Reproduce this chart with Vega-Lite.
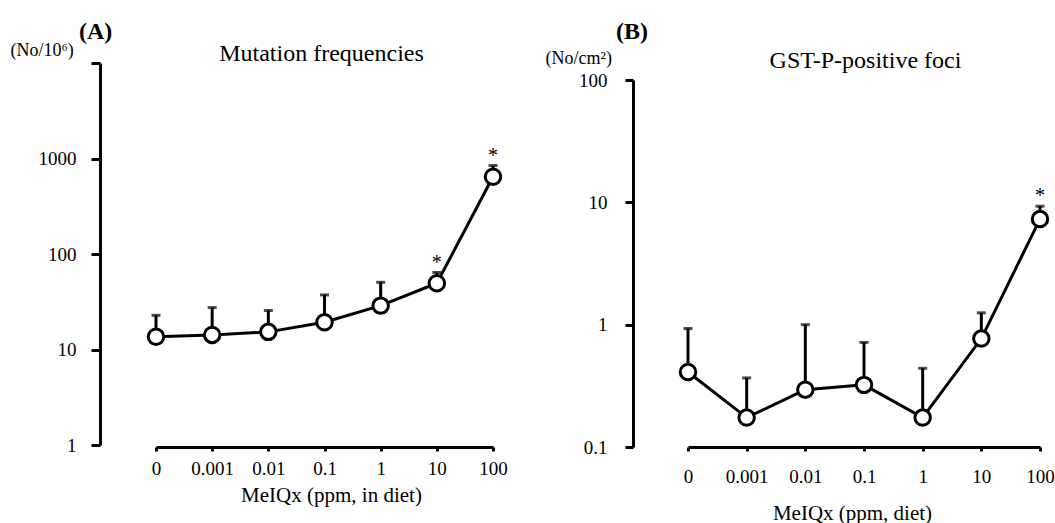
{
  "$schema": "https://vega.github.io/schema/vega-lite/v6.json",
  "background": "white",
  "padding": {"left": 10, "top": 20, "right": 0, "bottom": 0},
  "bounds": "flush",
  "spacing": 118,
  "config": {
    "font": "Liberation Serif",
    "view": {"stroke": null},
    "axis": {"domainColor": "black", "domainWidth": 3, "tickColor": "black", "tickWidth": 3, "labelColor": "black", "labelFont": "Liberation Serif", "labelFontSize": 19, "titleFont": "Liberation Serif", "titleColor": "black", "titleFontWeight": "normal", "grid": false},
    "title": {"font": "Liberation Serif", "fontSize": 24, "fontWeight": "bold", "color": "black", "anchor": "start", "frame": "group"}
  },
  "datasets": {
    "mut": [
      {"dose": "0", "mean": 13.6, "upper": 22.8, "sig": ""},
      {"dose": "0.001", "mean": 14.2, "upper": 27.5, "sig": ""},
      {"dose": "0.01", "mean": 15.3, "upper": 25.6, "sig": ""},
      {"dose": "0.1", "mean": 19.3, "upper": 37.3, "sig": ""},
      {"dose": "1", "mean": 28.8, "upper": 50.6, "sig": ""},
      {"dose": "10", "mean": 49.4, "upper": 64, "sig": "*"},
      {"dose": "100", "mean": 644, "upper": 844, "sig": "*"}
    ],
    "gst": [
      {"dose": "0", "mean": 0.41, "upper": 0.93, "sig": ""},
      {"dose": "0.001", "mean": 0.174, "upper": 0.367, "sig": ""},
      {"dose": "0.01", "mean": 0.294, "upper": 1.0, "sig": ""},
      {"dose": "0.1", "mean": 0.322, "upper": 0.716, "sig": ""},
      {"dose": "1", "mean": 0.174, "upper": 0.44, "sig": ""},
      {"dose": "10", "mean": 0.77, "upper": 1.25, "sig": ""},
      {"dose": "100", "mean": 7.3, "upper": 9.3, "sig": "*"}
    ]
  },
  "hconcat": [
    {
      "width": 415,
      "height": 384,
      "title": {"text": "(A)", "dx": -21, "offset": -3},
      "data": {"name": "mut"},
      "resolve": {"axis": {"x": "independent", "y": "independent"}},
      "encoding": {
        "x": {"field": "dose", "type": "ordinal", "scale": {"type": "point", "domain": ["0", "0.001", "0.01", "0.1", "1", "10", "100"], "range": [56, 393], "padding": 0}, "axis": null},
        "y": {"field": "mean", "type": "quantitative", "scale": {"type": "log", "domain": [1, 10000], "range": [382, 0], "nice": false}, "axis": null}
      },
      "layer": [
        {
          "mark": {"type": "rule", "strokeWidth": 3, "color": "black"},
          "encoding": {
            "x": {"field": "dose", "type": "ordinal", "scale": {"type": "point", "domain": ["0", "0.001", "0.01", "0.1", "1", "10", "100"], "range": [56, 393], "padding": 0},
              "axis": {"orient": "bottom", "title": "MeIQx (ppm, in diet)", "titleFontSize": 21, "titleX": 231, "titleY": 48, "titleBaseline": "middle", "titleAlign": "center", "tickSize": 4, "labelPadding": 8, "labelAngle": 0}},
            "y": {"field": "mean", "type": "quantitative", "scale": {"type": "log", "domain": [1, 10000], "range": [382, 0], "nice": false},
              "axis": {"values": [1, 10, 100, 1000, 10000], "format": "~g", "labelExpr": "datum.value >= 10000 ? '' : datum.label", "tickSize": 9, "labelPadding": 15,
                "title": "(No/10⁶)", "titleAngle": 0, "titleX": -90, "titleY": -13, "titleAlign": "left", "titleBaseline": "middle", "titleFontSize": 18}},
            "y2": {"field": "upper"}
          }
        },
        {"mark": {"type": "line", "strokeWidth": 3, "color": "black"}, "encoding": {}},
        {"mark": {"type": "point", "shape": "circle", "filled": true, "fill": "white", "stroke": "black", "strokeWidth": 3, "size": 240, "opacity": 1}, "encoding": {}},
        {
          "mark": {"type": "tick", "thickness": 3, "size": 9, "color": "black"},
          "encoding": {"y": {"field": "upper", "type": "quantitative", "scale": {"type": "log", "domain": [1, 10000], "range": [382, 0], "nice": false}, "axis": null}}
        },
        {
          "mark": {"type": "text", "fontSize": 20, "dy": -4, "baseline": "alphabetic", "color": "black"},
          "encoding": {
            "text": {"field": "sig"},
            "y": {"field": "upper", "type": "quantitative", "scale": {"type": "log", "domain": [1, 10000], "range": [382, 0], "nice": false}, "axis": null},
            "x": {"field": "dose", "type": "ordinal", "scale": {"type": "point", "domain": ["0", "0.001", "0.01", "0.1", "1", "10", "100"], "range": [56, 393], "padding": 0},
              "axis": {"orient": "top", "title": "Mutation frequencies", "labels": false, "ticks": false, "domain": false, "titleFontSize": 24, "titleX": 221, "titleY": -10, "titleBaseline": "middle", "titleAlign": "center", "titleAngle": 0}}
          }
        }
      ]
    },
    {
      "width": 422,
      "height": 384,
      "title": {"text": "(B)", "dx": -17, "offset": 4},
      "data": {"name": "gst"},
      "resolve": {"axis": {"x": "independent", "y": "independent"}},
      "encoding": {
        "x": {"field": "dose", "type": "ordinal", "scale": {"type": "point", "domain": ["0", "0.001", "0.01", "0.1", "1", "10", "100"], "range": [55, 407], "padding": 0}, "axis": null},
        "y": {"field": "mean", "type": "quantitative", "scale": {"type": "log", "domain": [0.1, 100], "range": [384, 17], "nice": false}, "axis": null}
      },
      "layer": [
        {
          "mark": {"type": "rule", "strokeWidth": 3, "color": "black"},
          "encoding": {
            "x": {"field": "dose", "type": "ordinal", "scale": {"type": "point", "domain": ["0", "0.001", "0.01", "0.1", "1", "10", "100"], "range": [55, 407], "padding": 0},
              "axis": {"orient": "bottom", "title": "MeIQx (ppm, diet)", "titleFontSize": 21, "titleX": 219, "titleY": 66, "titleBaseline": "middle", "titleAlign": "center", "tickSize": 4, "labelPadding": 16, "labelAngle": 0}},
            "y": {"field": "mean", "type": "quantitative", "scale": {"type": "log", "domain": [0.1, 100], "range": [384, 17], "nice": false},
              "axis": {"values": [0.1, 1, 10, 100], "format": "~g", "tickSize": 8, "labelPadding": 18,
                "title": "(No/cm²)", "titleAngle": 0, "titleX": -88, "titleY": -5, "titleAlign": "left", "titleBaseline": "middle", "titleFontSize": 18}},
            "y2": {"field": "upper"}
          }
        },
        {"mark": {"type": "line", "strokeWidth": 3, "color": "black"}, "encoding": {}},
        {"mark": {"type": "point", "shape": "circle", "filled": true, "fill": "white", "stroke": "black", "strokeWidth": 3, "size": 240, "opacity": 1}, "encoding": {}},
        {
          "mark": {"type": "tick", "thickness": 3, "size": 9, "color": "black"},
          "encoding": {"y": {"field": "upper", "type": "quantitative", "scale": {"type": "log", "domain": [0.1, 100], "range": [384, 17], "nice": false}, "axis": null}}
        },
        {
          "mark": {"type": "text", "fontSize": 20, "dy": -4, "baseline": "alphabetic", "color": "black"},
          "encoding": {
            "text": {"field": "sig"},
            "y": {"field": "upper", "type": "quantitative", "scale": {"type": "log", "domain": [0.1, 100], "range": [384, 17], "nice": false}, "axis": null},
            "x": {"field": "dose", "type": "ordinal", "scale": {"type": "point", "domain": ["0", "0.001", "0.01", "0.1", "1", "10", "100"], "range": [55, 407], "padding": 0},
              "axis": {"orient": "top", "title": "GST-P-positive foci", "labels": false, "ticks": false, "domain": false, "titleFontSize": 24, "titleX": 232, "titleY": -3, "titleBaseline": "middle", "titleAlign": "center", "titleAngle": 0}}
          }
        }
      ]
    }
  ]
}
